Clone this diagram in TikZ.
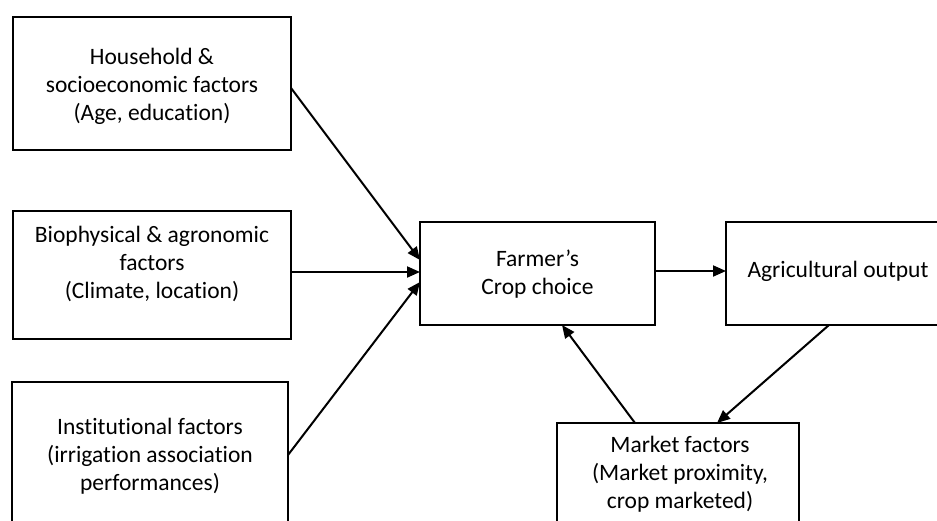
\documentclass[tikz,border=0pt]{standalone}
\usepackage{fontspec}
\setmainfont{Carlito}[RawFeature=-liga]
\usetikzlibrary{arrows.meta,calc}
\begin{document}
\begin{tikzpicture}[x=1pt,y=-1pt,
  box/.style={draw=black,line width=2pt,rectangle,inner sep=0pt,outer sep=0pt},
  txt/.style={align=center,font=\fontsize{23.5}{28}\selectfont,inner sep=0pt},
  arr/.style={line width=2pt,-{Triangle[length=13pt,width=11pt]}}]
\useasboundingbox (0,0) rectangle (937,520);
\clip (0,0) rectangle (937,520);
\fill[white] (0,0) rectangle (937,520);
% boxes
\node[box,minimum width=278pt,minimum height=133pt] (b1) at (152,83.5) {};
\node[box,minimum width=278pt,minimum height=128pt] (b2) at (152,275) {};
\node[box,minimum width=276pt,minimum height=178pt] (b3) at (150,471) {};
\node[box,minimum width=235pt,minimum height=103pt] (fc) at (537.5,273.5) {};
\node[box,minimum width=254pt,minimum height=103pt] (ao) at (853,273.5) {};
\node[box,minimum width=242pt,minimum height=137pt] (mf) at (678,491.5) {};
% texts
\node[txt] (t1) at (152,86) {Household \&\\socioeconomic factors\\(Age, education)};
\node[txt] (t2) at (152,264) {Biophysical \& agronomic\\factors\\(Climate, location)};
\node[txt] (t3) at (150,456) {Institutional factors\\(irrigation association\\performances)};
\node[txt] (tf) at (537.5,274) {Farmer’s\\Crop choice};
\node[txt] (ta) at (838,271) {Agricultural output};
\node[txt] (tm) at (680,474) {Market factors\\(Market proximity,\\crop marketed)};
% arrows
\draw[arr] ([yshift=-4.5pt]b1.east) -- ([yshift=13.5pt]fc.west);
\draw[arr] ([yshift=3pt]b2.east) -- ([yshift=1.5pt]fc.west);
\draw[arr] ([yshift=16pt]b3.east) -- ([yshift=-8.5pt]fc.west);
\draw[arr] ([yshift=2.5pt]fc.east) -- ([yshift=2.5pt]ao.west);
\draw[arr] ([xshift=-43pt]mf.north) -- ([xshift=24.5pt]fc.south);
\draw[arr] ([xshift=-24pt]ao.south) -- ([xshift=39pt]mf.north);
\end{tikzpicture}
\end{document}
